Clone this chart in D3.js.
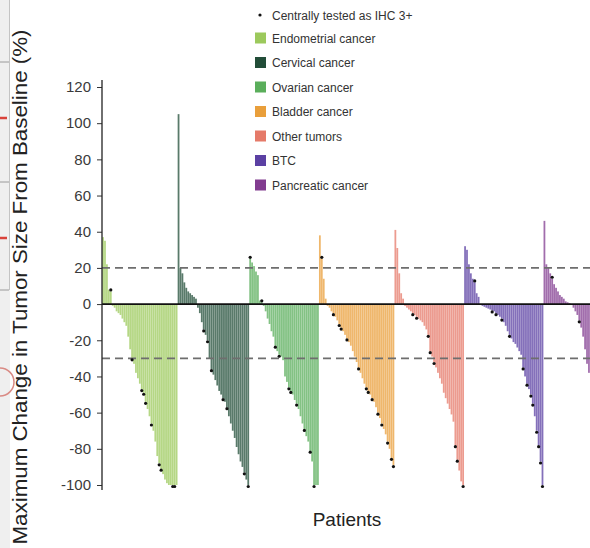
<!DOCTYPE html>
<html>
<head>
<meta charset="utf-8">
<script src="https://cdn.jsdelivr.net/npm/d3@7"></script>
<style>
  html, body { margin: 0; padding: 0; background: #fff; }
  svg { display: block; font-family: "Liberation Sans", Arial, sans-serif; }
</style>
</head>
<body>
<div id="chart"></div>
<script>
// waterfall plot: best % change in tumour size, grouped by cohort

var categories = ["Endometrial cancer", "Cervical cancer", "Ovarian cancer", "Bladder cancer",
                  "Other tumors", "BTC", "Pancreatic cancer"];
var colors = ["#9cc95c", "#224d38", "#5aae5b", "#e99f3b", "#e57a69", "#5b40a3", "#823c90"];

var endometrial = [37, 35, 22, 8, 7,
  -1, -2, -4, -5, -6, -8, -10, -12, -18, -25, -30, -33, -38, -41, -44, -47, -49, -54, -58, -62,
  -66, -70, -76, -84, -88, -91, -94, -97, -99, -100, -100, -100, -100, -100];
var cervical = [105, 20, 17, 12, 9, 7, 6, 5, 4, 3,
  -2, -5, -10, -14, -17, -20, -30, -36, -39, -42, -45, -48, -50, -52, -54, -57, -62, -66, -70,
  -74, -79, -83, -87, -90, -93, -97, -100];
var ovarian = [25, 23, 21, 18, 16, 2, 1,
  -1, -4, -8, -11, -15, -18, -23, -26, -28, -29, -31, -40, -43, -46, -48, -50, -53, -55, -58,
  -62, -66, -69, -73, -76, -81, -87, -100, -100, -100];
var bladder = [38, 25, 14, 3,
  -1, -2, -4, -5, -7, -9, -11, -13, -15, -17, -19, -21, -23, -26, -29, -32, -35, -38, -41, -44,
  -46, -48, -50, -52, -54, -57, -60, -63, -66, -69, -72, -76, -80, -85, -89];
var otherTumors = [41, 31, 17, 6, 3,
  -1, -2, -3, -4, -5, -6, -7, -8, -9, -10, -12, -14, -17, -26, -29, -32, -35, -38, -41, -44,
  -49, -52, -55, -58, -61, -65, -78, -86, -92, -98, -100];
var btc = [32, 30, 22, 17, 14, 12, 6, 4,
  -0.5, -1, -1.5, -2, -2.5, -3, -3.5, -4, -5, -6, -7, -8, -10, -12, -15, -17, -19, -21, -22,
  -24, -26, -28, -35, -40, -44, -47, -50, -55, -62, -70, -78, -87, -100];
var pancreatic = [46, 22, 20, 17, 14, 11, 9, 7, 5, 4, 3, 1.5, 1, 0.5,
  -0.5, -2, -4, -6, -9, -13, -18, -25, -33, -38];

// patients centrally tested as IHC 3+ (position within each cohort)
var endometrialIHC3 = [4, 15, 20, 21, 22, 25, 29, 30, 36, 37];
var cervicalIHC3 = [13, 15, 17, 23, 25, 34, 36];
var ovarianIHC3 = [0, 6, 13, 15, 20, 21, 24, 28, 31, 33];
var bladderIHC3 = [1, 7, 10, 11, 14, 20, 24, 25, 27, 30, 32, 35, 37, 38];
var otherIHC3 = [9, 11, 17, 18, 20, 31, 32, 35];
var btcIHC3 = [5, 14, 16, 19, 23, 30, 32, 34, 35, 37, 38, 39, 40];
var pancreaticIHC3 = [4, 18];

var yTicks = [120, 100, 80, 60, 40, 20, 0, -20, -40, -60, -80, -100];
var refLines = [20, -30];

var groups = [endometrial, cervical, ovarian, bladder, otherTumors, btc, pancreatic];
var groupIHC3 = [endometrialIHC3, cervicalIHC3, ovarianIHC3, bladderIHC3, otherIHC3, btcIHC3, pancreaticIHC3];

var rows = [];
groups.forEach(function(vals, g){
    vals.forEach(function(v, i){
	rows.push({id: g + "-" + i, group: g, value: v, ihc: groupIHC3[g].indexOf(i) >= 0});
    });
});

var W = 590, H = 548;
var svg = d3.select("#chart").append("svg").attr("width", W).attr("height", H);

// scrap of the neighbouring page on the far left
var edge = svg.append("g");
edge.append("rect").attr("x", 0).attr("y", 0).attr("width", 10).attr("height", H).attr("fill", "#efefef");
edge.append("line").attr("x1", 9.5).attr("x2", 9.5).attr("y1", 0).attr("y2", 290).attr("stroke", "#c4c4c4");
[62, 182, 290].forEach(function(yy){
    edge.append("line").attr("x1", 0).attr("x2", 9).attr("y1", yy).attr("y2", yy).attr("stroke", "#9a9a9a");
});
[118, 238].forEach(function(yy){
    edge.append("line").attr("x1", 0).attr("x2", 7).attr("y1", yy).attr("y2", yy).attr("stroke", "#d9423a").attr("stroke-width", 2.5);
});
edge.append("path").attr("d", "M0,368 A14,14 0 0 1 0,396").attr("fill", "none").attr("stroke", "#d98a84").attr("stroke-width", 1.5);

var x = d3.scaleBand().domain(rows.map(function(d){ return d.id; })).range([102, 590]).padding(0.08);
var y = d3.scaleLinear().domain([-100, 120]).range([485, 87]);

// bars
svg.append("g").selectAll("rect").data(rows).enter().append("rect")
    .attr("x", function(d){ return x(d.id); })
    .attr("width", x.bandwidth())
    .attr("y", function(d){ return y(Math.max(0, d.value)); })
    .attr("height", function(d){ return Math.abs(y(d.value) - y(0)); })
    .attr("fill", function(d){ return colors[d.group]; })
    .attr("fill-opacity", 0.75);

// reference lines
svg.append("g").selectAll("line").data(refLines).enter().append("line")
    .attr("x1", 102).attr("x2", 590)
    .attr("y1", function(d){ return y(d); }).attr("y2", function(d){ return y(d); })
    .attr("stroke", "#6e6e6e").attr("stroke-width", 1.6).attr("stroke-dasharray", "8,5");

svg.append("line").attr("x1", 102).attr("x2", 590).attr("y1", y(0)).attr("y2", y(0))
    .attr("stroke", "#111").attr("stroke-width", 1.6);

// IHC 3+ dots
svg.append("g").selectAll("circle").data(rows.filter(function(d){ return d.ihc; })).enter().append("circle")
    .attr("cx", function(d){ return x(d.id) + x.bandwidth() / 2; })
    .attr("cy", function(d){ return y(d.value) + (d.value >= 0 ? -1.5 : 1.5); })
    .attr("r", 1.6)
    .attr("fill", "#111");

// y axis
var yAxis = svg.append("g").attr("transform", "translate(102,0)")
    .call(d3.axisLeft(y).tickValues(yTicks).tickSize(5).tickPadding(6));
yAxis.select(".domain").remove();
yAxis.append("line").attr("x1", 0).attr("x2", 0).attr("y1", 80).attr("y2", 490)
    .attr("stroke", "#222").attr("stroke-width", 1.3);
yAxis.selectAll(".tick line").attr("stroke", "#333");
yAxis.selectAll(".tick text")
    .attr("fill", "#3a3a3a")
    .style("font-size", "15px")
    .style("font-family", "'Liberation Sans', Arial, sans-serif")
    .text(function(d){ return d; });

svg.append("text")
    .attr("transform", "translate(27,287) rotate(-90)")
    .attr("text-anchor", "middle")
    .attr("fill", "#222")
    .attr("textLength", 515)
    .attr("lengthAdjust", "spacingAndGlyphs")
    .style("font-size", "20px")
    .text("Maximum Change in Tumor Size From Baseline (%)");

svg.append("text")
    .attr("x", 347).attr("y", 526)
    .attr("text-anchor", "middle")
    .attr("fill", "#222")
    .style("font-size", "19px")
    .text("Patients");

// legend
var legend = svg.append("g").attr("transform", "translate(255,0)");
legend.append("circle").attr("cx", 5).attr("cy", 15).attr("r", 1.6).attr("fill", "#111");
legend.append("text").attr("x", 17).attr("y", 19.5).attr("fill", "#333")
    .style("font-size", "12px").text("Centrally tested as IHC 3+");

var items = legend.selectAll("g.item").data(categories).enter().append("g")
    .attr("class", "item")
    .attr("transform", function(d, i){ return "translate(0," + (38 + i * 24.5) + ")"; });
items.append("rect").attr("x", 0).attr("y", -5.5).attr("width", 11).attr("height", 11)
    .attr("fill", function(d, i){ return colors[i]; });
items.append("text").attr("x", 17).attr("y", 4.5).attr("fill", "#333")
    .style("font-size", "12px").text(function(d){ return d; });
</script>
</body>
</html>
